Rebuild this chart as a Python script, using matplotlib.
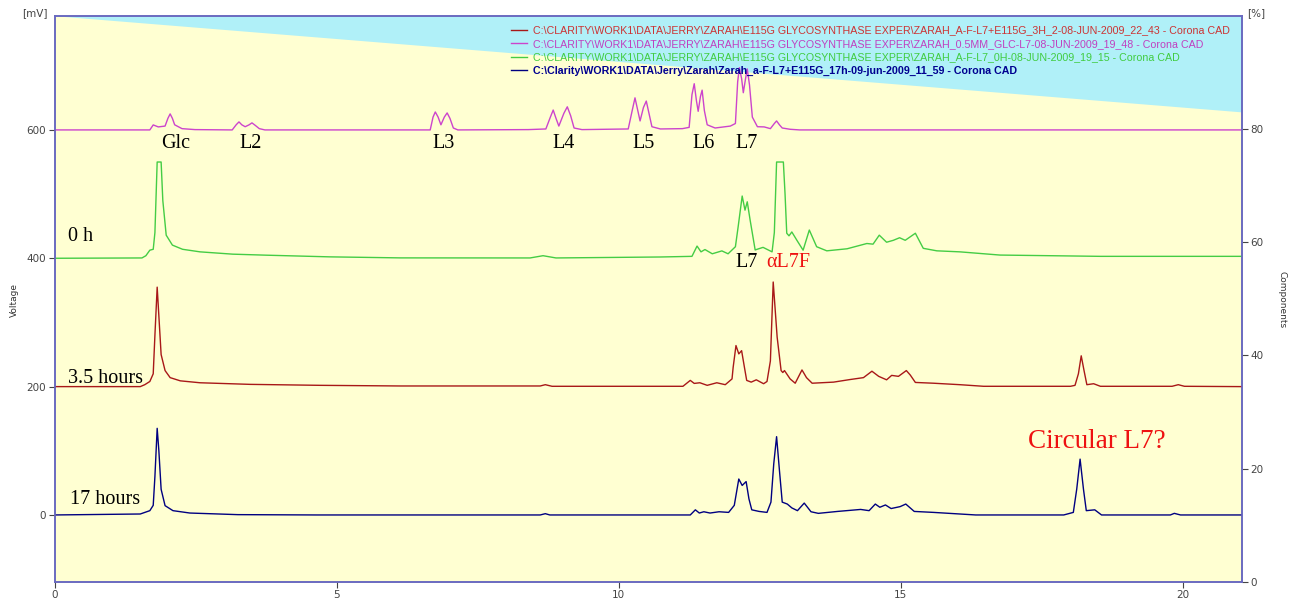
import matplotlib
matplotlib.use("Agg")
import matplotlib.pyplot as plt

# ---------------- data ----------------
offsets = {"red": 200, "magenta": 600, "green": 400, "blue": 0}

# GLC-L7 standard ladder (magenta), signal above its 600 mV offset
mag_t = [0, 1.52, 1.69, 1.75, 1.84, 1.96, 2.01, 2.05, 2.09, 2.13, 2.26, 2.49,
         3.15, 3.22, 3.27, 3.32, 3.38, 3.45, 3.50, 3.56, 3.63, 3.73,
         6.66, 6.71, 6.75, 6.80, 6.85, 6.91, 6.96, 7.01, 7.07, 7.15,
         8.40, 8.71, 8.79, 8.84, 8.89, 8.94, 9.03, 9.09, 9.15, 9.21, 9.35,
         10.17, 10.24, 10.29, 10.34, 10.38, 10.44, 10.49, 10.54, 10.59, 10.74, 11.13,
         11.25, 11.30, 11.34, 11.38, 11.41, 11.45, 11.48, 11.52, 11.57, 11.71, 11.98,
         12.07, 12.11, 12.14, 12.18, 12.21, 12.25, 12.28, 12.32, 12.37, 12.46, 12.58, 12.69,
         12.76, 12.80, 12.85, 12.90, 13.04, 13.21, 21.05]
mag_s = [0, 0, 0, 7.8, 4.7, 6, 18, 25, 18, 8, 2, 0.5,
         0, 8, 12.5, 8, 5, 8, 11, 7, 2, 0,
         0, 20, 28, 20, 8, 20, 26.5, 18, 3, 0,
         0.5, 1.5, 20, 31, 18, 6, 26, 36, 22, 3, 0.5,
         1.5, 30, 50, 30, 14, 35, 45, 25, 5, 1.5, 2,
         4, 55, 72, 45, 29, 52, 62, 30, 8, 3, 6,
         10, 75, 97, 80, 58, 80, 95, 70, 20, 5, 4.7, 2,
         10, 14, 8, 3, 1, 0, 0]

# 0 h sample (green), offset 400 mV
grn_t = [0, 1.55, 1.62, 1.69, 1.75, 1.78, 1.82, 1.89, 1.92, 1.98, 2.09, 2.27, 2.58, 3.16, 3.76, 4.88, 6.13,
         8.43, 8.66, 8.89, 10.74,
         11.30, 11.39, 11.46, 11.53, 11.66, 11.83, 11.94, 12.07, 12.12, 12.19, 12.24, 12.28, 12.33,
         12.42, 12.56, 12.72, 12.76, 12.80, 12.92, 12.95, 12.98, 13.02, 13.07, 13.16, 13.27, 13.38,
         13.51, 13.69, 14.05, 14.40, 14.51, 14.62, 14.75, 14.87, 14.98, 15.08, 15.26, 15.40, 15.64,
         16.05, 16.76, 18.54, 21.05]
grn_s = [0, 0.5, 4, 12.6, 14, 40, 150, 150, 90, 36, 20.5, 14, 10, 6.4, 4.8, 2.2, 0.6,
         0.5, 4, 0.5, 2,
         3, 19, 10, 13.6, 7, 11.5, 7, 18, 50, 97, 75, 88, 60,
         13, 17, 10, 40, 150, 150, 100, 39, 35, 41, 28, 12.6, 44,
         18, 11.6, 14.8, 23, 22, 36, 25, 28, 32, 28, 39, 15.5, 11.6,
         10, 5, 3, 3]

# 3.5 hours sample (dark red), offset 200 mV
red_t = [0, 1.52, 1.60, 1.69, 1.75, 1.78, 1.82, 1.85, 1.89, 1.96, 2.05, 2.23, 2.58, 3.47, 4.71, 6.13,
         8.61, 8.70, 8.82, 11.09,
         11.14, 11.27, 11.34, 11.44, 11.57, 11.74, 11.89, 12.01, 12.03, 12.08, 12.13, 12.18, 12.23,
         12.27, 12.35, 12.44, 12.57, 12.63, 12.69, 12.74, 12.81, 12.88, 12.91, 12.94, 13.04, 13.13,
         13.25, 13.33, 13.43, 13.81, 14.10, 14.34, 14.49, 14.61, 14.75, 14.84, 14.96, 15.10, 15.17,
         15.26, 15.58, 16.05, 16.47, 18.01, 18.09, 18.15, 18.20, 18.25, 18.30, 18.42, 18.54,
         19.81, 19.92, 20.03, 21.05]
red_s = [0, 0, 3, 8, 20, 80, 155, 110, 50, 25, 14, 9, 6, 3.5, 2, 1,
         1, 3, 0.5, 0.5,
         0.5, 9.7, 5, 6, 2, 6, 3, 12, 30, 64, 51, 56, 30,
         9.7, 7, 10.6, 4.5, 8, 40, 163, 77, 25, 22, 25, 12, 5.3,
         26, 14, 5.3, 7, 11, 14, 24, 16, 10.6, 17.5, 16, 25, 18,
         6.5, 5.3, 3, 0.5, 0.5, 2, 20, 48, 25, 3, 4.5, 0.5,
         0.5, 3, 0.5, 0]

# 17 hours sample (navy), offset 0 mV
blu_t = [0, 1.52, 1.69, 1.75, 1.78, 1.82, 1.85, 1.89, 1.96, 2.10, 2.40, 3.25, 4.65,
         8.61, 8.70, 8.78, 11.27,
         11.36, 11.43, 11.51, 11.62, 11.78, 11.95, 12.05, 12.13, 12.19, 12.26, 12.31, 12.36, 12.49,
         12.63, 12.70, 12.75, 12.80, 12.85, 12.90, 12.99, 13.07, 13.17, 13.29, 13.41, 13.54, 13.88,
         14.29, 14.44, 14.55, 14.63, 14.73, 14.83, 14.99, 15.09, 15.24, 15.58, 16.33, 17.89,
         18.06, 18.12, 18.18, 18.24, 18.29, 18.44, 18.56, 19.78, 19.85, 19.96, 21.05]
blu_s = [0, 1.5, 6.7, 15, 60, 135, 100, 40, 14.5, 6.7, 3, 0.5, 0,
         0, 2, 0, 0,
         8, 3, 5, 3, 5, 4, 15, 56, 46, 52, 25, 8, 5.5,
         4, 20, 80, 122, 70, 20, 17, 11, 6.7, 18.5, 5, 2.5, 5.5,
         8.6, 6.7, 17, 12, 15.6, 10, 13, 17, 5.5, 4, 0, 0,
         4, 40, 87, 40, 6.7, 8, 0, 0, 2.5, 0, 0]

# gradient profile (% on the right axis)
grad_t = [0, 21.05]
grad_pct = [100, 83]

legend_labels = [
    r"C:\CLARITY\WORK1\DATA\JERRY\ZARAH\E115G GLYCOSYNTHASE EXPER\ZARAH_A-F-L7+E115G_3H_2-08-JUN-2009_22_43 - Corona CAD",
    r"C:\CLARITY\WORK1\DATA\JERRY\ZARAH\E115G GLYCOSYNTHASE EXPER\ZARAH_0.5MM_GLC-L7-08-JUN-2009_19_48 - Corona CAD",
    r"C:\CLARITY\WORK1\DATA\JERRY\ZARAH\E115G GLYCOSYNTHASE EXPER\ZARAH_A-F-L7_0H-08-JUN-2009_19_15 - Corona CAD",
    r"C:\Clarity\WORK1\DATA\Jerry\Zarah\Zarah_a-F-L7+E115G_17h-09-jun-2009_11_59 - Corona CAD",
]

peak_labels = ["Glc", "L2", "L3", "L4", "L5", "L6", "L7"]
peak_label_t = [2.14, 3.47, 6.89, 9.03, 10.45, 11.51, 12.27]

x_ticks = [0, 5, 10, 15, 20]
y_ticks = [0, 200, 400, 600]
pct_ticks = [0, 20, 40, 60, 80]

# ---------------- styling ----------------
YELLOW = "#FFFFD2"
CYAN = "#B0F0F8"
SPINE = "#6a6ac0"
TICKC = "#444444"
COL = {"red": "#A81818", "magenta": "#CC44CC", "green": "#44CC44", "blue": "#000080"}
TXTCOL = ["#CC3333", "#C040C0", "#40CC40", "#000090"]

fig = plt.figure(figsize=(12.94, 5.99), dpi=100)
fig.patch.set_facecolor("white")
ax = fig.add_axes([54.5 / 1294, (599 - 581.7) / 599, (1242 - 54.5) / 1294, (581.7 - 15.7) / 599])
ax2 = ax.twinx()
ax.set_zorder(ax2.get_zorder() + 1)
ax.patch.set_visible(False)
ax2.patch.set_visible(True)
ax2.patch.set_facecolor(YELLOW)

ax.set_xlim(0, 21.05)
ax.set_ylim(-104, 778)
ax2.set_ylim(0, 100)
ax2.fill_between(grad_t, grad_pct, 100, color=CYAN, lw=0)

lw = 1.0
l_red, = ax.plot(red_t, [v + offsets["red"] for v in red_s], color=COL["red"], lw=lw)
l_mag, = ax.plot(mag_t, [v + offsets["magenta"] for v in mag_s], color=COL["magenta"], lw=lw)
l_grn, = ax.plot(grn_t, [v + offsets["green"] for v in grn_s], color=COL["green"], lw=lw)
l_blu, = ax.plot(blu_t, [v + offsets["blue"] for v in blu_s], color=COL["blue"], lw=lw)

# axes styling
for a in (ax, ax2):
    for s in a.spines.values():
        s.set_color(SPINE)
        s.set_linewidth(1.2)
ax.set_xticks(x_ticks)
ax.set_yticks(y_ticks)
ax2.set_yticks(pct_ticks)
ax.tick_params(axis="both", direction="out", length=4, width=0.8, color=TICKC,
               labelsize=7.5, labelcolor=TICKC, pad=2)
ax2.tick_params(axis="y", direction="out", length=4, width=0.8, color=TICKC,
                labelsize=7.5, labelcolor=TICKC, pad=2)
for lab in ax.get_xticklabels() + ax.get_yticklabels() + ax2.get_yticklabels():
    lab.set_family("DejaVu Sans")

fig.text(14 / 1294, 1 - 300 / 599, "Voltage", rotation=90, ha="center", va="center", fontsize=6.5, color="#333333")
fig.text(1282 / 1294, 1 - 300 / 599, "Components", rotation=270, ha="center", va="center", fontsize=6.5, color="#333333")
fig.text(35 / 1294, 1 - 13 / 599, "[mV]", ha="center", va="center", fontsize=7.5, color=TICKC)
fig.text(1256 / 1294, 1 - 13 / 599, "[%]", ha="center", va="center", fontsize=7.5, color=TICKC)

# legend
leg = ax.legend([l_red, l_mag, l_grn, l_blu], legend_labels, loc="upper left",
                bbox_to_anchor=((511 - 54.5) / (1242 - 54.5), 0.983), frameon=False,
                prop={"family": "Liberation Sans", "size": 7.65}, handlelength=1.5,
                handletextpad=0.55, labelspacing=0.33, borderpad=0, borderaxespad=0)
for txt, c in zip(leg.get_texts(), TXTCOL):
    txt.set_color(c)
leg.get_texts()[3].set_fontweight("bold")

# annotations
serif = "Liberation Serif"
for lab, t in zip(peak_labels, peak_label_t):
    ax.text(t, 572, lab, ha="center", va="baseline", fontsize=14.5, family=serif, color="black")
ax.text(0.24, 427, "0 h", ha="left", va="baseline", fontsize=14.5, family=serif)
ax.text(12.27, 386, "L7", ha="center", va="baseline", fontsize=14.5, family=serif)
ax.text(13.01, 386, "αL7F", ha="center", va="baseline", fontsize=14.5, family=serif, color="#EE1111")
ax.text(0.24, 205, "3.5 hours", ha="left", va="baseline", fontsize=14.5, family=serif)
ax.text(0.27, 17, "17 hours", ha="left", va="baseline", fontsize=14.5, family=serif)
ax.text(17.26, 105, "Circular L7?", ha="left", va="baseline", fontsize=19.5, family=serif, color="#EE1111")

fig.savefig("out.png", dpi=100, facecolor="white")
